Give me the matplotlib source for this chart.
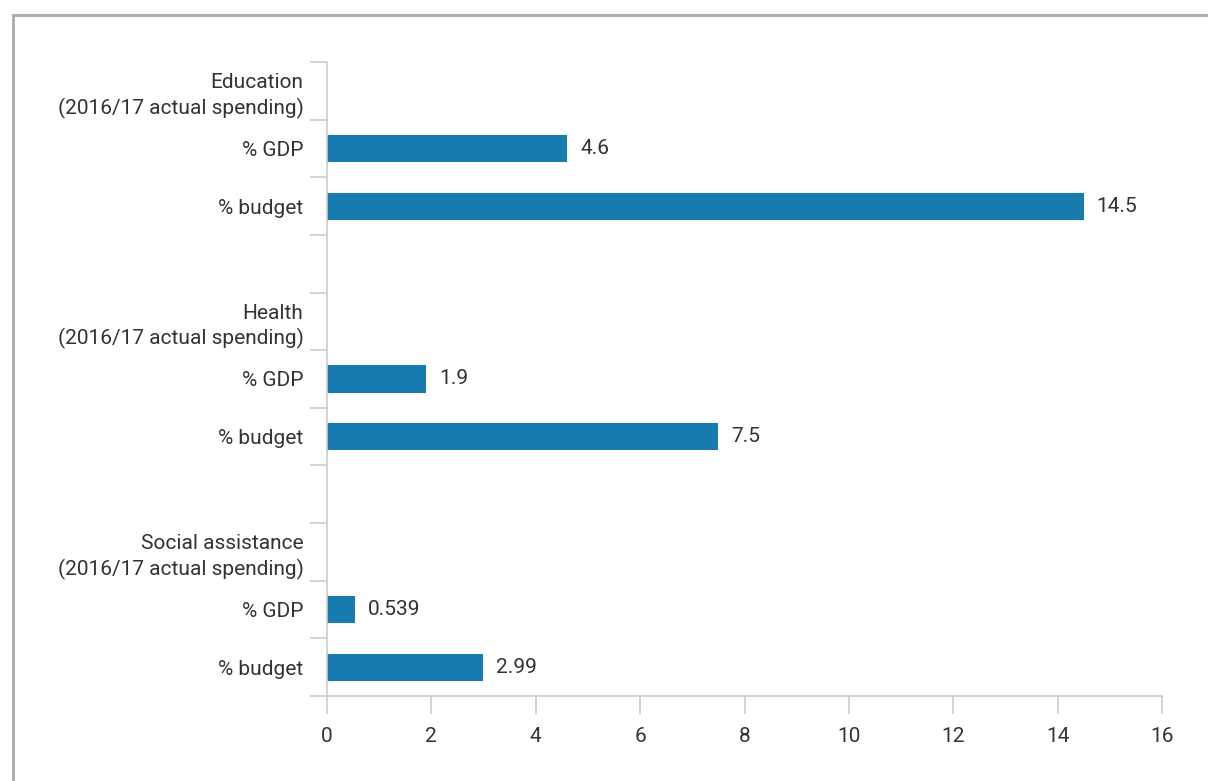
import numpy as np
import matplotlib
matplotlib.use("Agg")
import matplotlib.pyplot as plt
from matplotlib.patches import Rectangle

# Spending shares by sector
groups = ["Education\n(2016/17 actual spending)",
          "Health\n(2016/17 actual spending)",
          "Social assistance\n(2016/17 actual spending)"]
measures = ["% GDP", "% budget"]
pct_gdp = [4.6, 1.9, 0.539]
pct_budget = [14.5, 7.5, 2.99]
value_labels_gdp = ["4.6", "1.9", "0.539"]
value_labels_budget = ["14.5", "7.5", "2.99"]

plt.rcParams['font.family'] = ['Roboto', 'DejaVu Sans']

bar_color = "#187bb0"
axis_color = "#cccccc"
text_color = "#333333"
fs = 15

fig = plt.figure(figsize=(12.08, 7.81), dpi=100)
ax = fig.add_axes([327/1208, 1 - 696/781, (1162 - 327)/1208, (696 - 62)/781])

# outer frame
fig.patches.append(Rectangle((13/1208, -0.1), 1.2, 1 - 15/781 + 0.1,
                             transform=fig.transFigure, fill=False,
                             edgecolor="#aaaaaa", linewidth=2))

# rows: header, % GDP, % budget, spacer per group
labels = []
for i, g in enumerate(groups):
    labels += [g] + measures
    if i < len(groups) - 1:
        labels.append("")
n_rows = len(labels)

for i in range(len(groups)):
    y_gdp = 4 * i + 1
    y_bud = 4 * i + 2
    ax.barh(y_gdp, pct_gdp[i], height=0.47, color=bar_color)
    ax.barh(y_bud, pct_budget[i], height=0.47, color=bar_color)
    ax.text(pct_gdp[i] + 0.25, y_gdp, value_labels_gdp[i], va="center",
            ha="left", fontsize=fs, color=text_color)
    ax.text(pct_budget[i] + 0.25, y_bud, value_labels_budget[i], va="center",
            ha="left", fontsize=fs, color=text_color)

ax.set_ylim(n_rows - 0.5, -0.5)
ax.set_xlim(0, 16)

ax.set_yticks(np.arange(n_rows))
ax.set_yticklabels(labels, fontsize=fs, color=text_color, ha="right",
                   multialignment="right", linespacing=1.35)
ax.set_yticks(np.arange(n_rows + 1) - 0.5, minor=True)
ax.tick_params(axis="y", which="major", length=0, pad=17)
ax.tick_params(axis="y", which="minor", length=12.5, width=1.2, color=axis_color)

ax.set_xticks(np.arange(0, 17, 2))
ax.tick_params(axis="x", length=13, width=1.2, color=axis_color, pad=9,
               labelsize=fs, labelcolor=text_color)

for side in ["top", "right"]:
    ax.spines[side].set_visible(False)
for side in ["left", "bottom"]:
    ax.spines[side].set_color(axis_color)
    ax.spines[side].set_linewidth(1.2)

fig.savefig("out.png", dpi=100)
